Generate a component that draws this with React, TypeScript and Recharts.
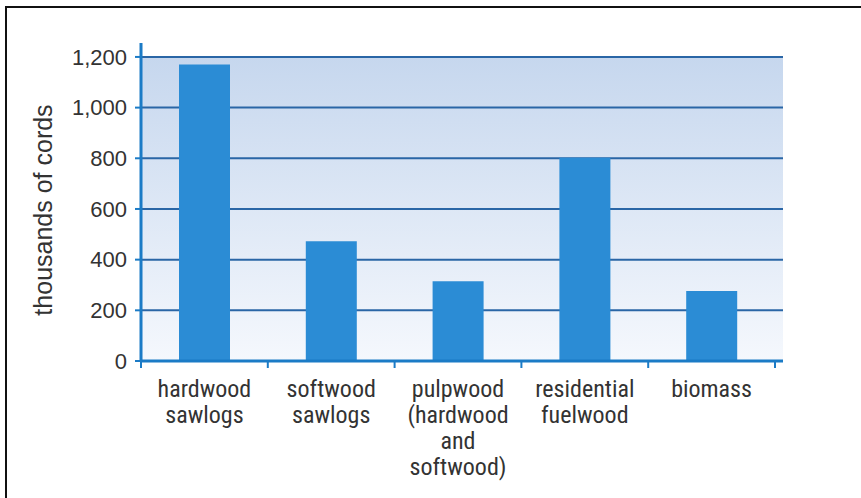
import React from "react";
import { Bar, BarChart, CartesianGrid, Label, XAxis, YAxis } from "recharts";

// thousands of cords by product
const categories = [
  "hardwood\nsawlogs",
  "softwood\nsawlogs",
  "pulpwood\n(hardwood\nand\nsoftwood)",
  "residential\nfuelwood",
  "biomass",
];
const cords = [1170, 473, 315, 802, 276];
const yTicks = [0, 200, 400, 600, 800, 1000, 1200];

const data = categories.map((name, i) => ({ name, cords: cords[i] }));

const AXIS_BLUE = "#1b7bc6";
const GRID_BLUE = "#2a66a6";
const BAR_BLUE = "#2b8cd5";
const TEXT = "#333333";
const NARROW = "'Liberation Sans Narrow', 'Roboto Condensed', Roboto, sans-serif";
const SANS = "'Liberation Sans', Arial, sans-serif";

function CategoryTick(props: any) {
  const { x, y, payload, index, visibleTicksCount } = props;
  const lines = String(payload.value).split("\n");
  const half = payload.offset ?? 0;
  const axisY = y - 7;
  return (
    <g>
      <line x1={x - half} x2={x - half} y1={axisY} y2={axisY + 7} stroke={AXIS_BLUE} strokeWidth={2} />
      {index === visibleTicksCount - 1 && (
        <line x1={x + half} x2={x + half} y1={axisY} y2={axisY + 7} stroke={AXIS_BLUE} strokeWidth={2} />
      )}
      <text x={x} y={y} textAnchor="middle" fill={TEXT} fontFamily={NARROW} fontSize={24}>
        {lines.map((l, i) => (
          <tspan key={i} x={x} dy={i === 0 ? 29 : 26}>
            {l}
          </tspan>
        ))}
      </text>
    </g>
  );
}

export default function App() {
  return (
    <div style={{ position: "absolute", left: 0, top: 0, width: 861, height: 498, background: "#fff", overflow: "hidden" }}>
      <div
        style={{
          position: "absolute",
          left: 5,
          top: 6,
          width: 900,
          height: 600,
          borderTop: "2px solid #111",
          borderLeft: "2px solid #111",
        }}
      />
      <BarChart
        width={861}
        height={498}
        data={data}
        margin={{ top: 43, right: 78, bottom: 17, left: 0 }}
        style={{ position: "absolute", left: 0, top: 0 }}
      >
        <defs>
          <linearGradient id="plotBg" gradientUnits="userSpaceOnUse" x1="0" y1="57" x2="0" y2="361">
            <stop offset="0%" stopColor="#c6d7ee" />
            <stop offset="100%" stopColor="#f5f8fd" />
          </linearGradient>
        </defs>
        <CartesianGrid
          vertical={false}
          syncWithTicks
          stroke={GRID_BLUE}
          strokeWidth={2}
          horizontalFill={["none", "url(#plotBg)", "url(#plotBg)", "url(#plotBg)", "url(#plotBg)", "url(#plotBg)", "url(#plotBg)"]}
          fillOpacity={1}
        />
        <XAxis
          dataKey="name"
          type="category"
          height={120}
          padding={{ left: 0, right: 8 }}
          axisLine={{ stroke: AXIS_BLUE, strokeWidth: 3 }}
          tickLine={false}
          tickSize={7}
          tickMargin={0}
          interval={0}
          tick={<CategoryTick />}
        />
        <YAxis
          width={141}
          domain={[0, 1255]}
          ticks={yTicks}
          allowDataOverflow
          axisLine={{ stroke: AXIS_BLUE, strokeWidth: 3 }}
          tickLine={{ stroke: AXIS_BLUE, strokeWidth: 2 }}
          tickSize={6}
          tickMargin={8}
          tick={{ fill: TEXT, fontSize: 22, fontFamily: SANS }}
          tickFormatter={(v) => Number(v).toLocaleString("en-US")}
        >
          <Label
            content={(p: any) => {
              const vb = p.viewBox || { x: 0, y: 43, height: 318 };
              const cx = vb.x + 43;
              const cy = vb.y + vb.height / 2 + 8;
              return (
                <text
                  x={cx}
                  y={cy}
                  transform={`rotate(-90, ${cx}, ${cy})`}
                  textAnchor="middle"
                  dominantBaseline="central"
                  fill={TEXT}
                  fontFamily={SANS}
                  fontSize={25}
                >
                  thousands of cords
                </text>
              );
            }}
          />
        </YAxis>
        <Bar dataKey="cords" fill={BAR_BLUE} barSize={51} isAnimationActive={false} />
      </BarChart>
    </div>
  );
}
